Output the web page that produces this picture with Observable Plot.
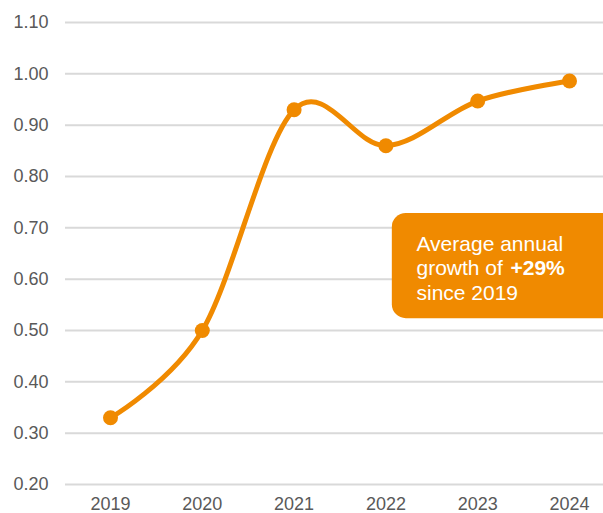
<!DOCTYPE html>
<html>
<head>
<meta charset="utf-8">
<script src="https://cdn.jsdelivr.net/npm/d3@7"></script>
<script src="https://cdn.jsdelivr.net/npm/@observablehq/plot@0.6"></script>
<style>
  html, body { margin: 0; padding: 0; background: #fff; overflow: hidden; }
</style>
</head>
<body>
<div id="chart"></div>
<script>
const years = [2019, 2020, 2021, 2022, 2023, 2024];
const values = [0.33, 0.50, 0.93, 0.86, 0.947, 0.986];
const yTicks = [0.2, 0.3, 0.4, 0.5, 0.6, 0.7, 0.8, 0.9, 1.0, 1.1];
const annotationText = "Average annual\ngrowth of \nsince 2019";
const annotationBold = "\n+29%";
// annotation box extents in data units
const boxX = [2022.07, 2024.9];
const boxY = [0.523, 0.728];
const textAt = {x: 2022.333, y: 0.689};

const data = years.map((y, i) => ({year: y, value: values[i]}));
const orange = "#F08A00";

const chart = Plot.plot({
  width: 603,
  height: 513,
  marginLeft: 65,
  marginRight: 0,
  marginTop: 22,
  marginBottom: 29,
  style: {fontFamily: "'Liberation Sans', Arial, sans-serif", fontSize: "18px", color: "#595959", background: "#fff"},
  x: {type: "linear", domain: [2019, 2024], range: [110, 569]},
  y: {domain: [0.2, 1.1]},
  marks: [
    Plot.gridY(yTicks, {stroke: "#d9d9d9", strokeOpacity: 1, strokeWidth: 2}),
    Plot.axisY(yTicks, {tickSize: 0, tickPadding: 17, tickFormat: d3.format(".2f"), label: null, fontSize: 18, fill: "#595959"}),
    Plot.axisX(years, {tickSize: 0, tickPadding: 13, tickFormat: d => String(d), label: null, fontSize: 18, fill: "#595959"}),
    Plot.line(data, {x: "year", y: "value", curve: "cardinal", tension: 0, stroke: orange, strokeWidth: 5}),
    Plot.dot(data, {x: "year", y: "value", r: 7.5, fill: orange, stroke: "none"}),
    Plot.rect([{}], {x1: boxX[0], x2: boxX[1], y1: boxY[0], y2: boxY[1], fill: orange, rx: 14, ry: 14}),
    Plot.text([annotationText], {x: textAt.x, y: textAt.y, text: d => d, textAnchor: "start", lineAnchor: "top", lineHeight: 1.167, fontSize: 21, fill: "#fff"}),
    Plot.text([annotationBold], {x: textAt.x, y: textAt.y, text: d => d, textAnchor: "start", lineAnchor: "top", lineHeight: 1.167, fontSize: 21, fontWeight: "bold", fill: "#fff", dx: 94})
  ]
});
document.getElementById("chart").appendChild(chart);
</script>
</body>
</html>
